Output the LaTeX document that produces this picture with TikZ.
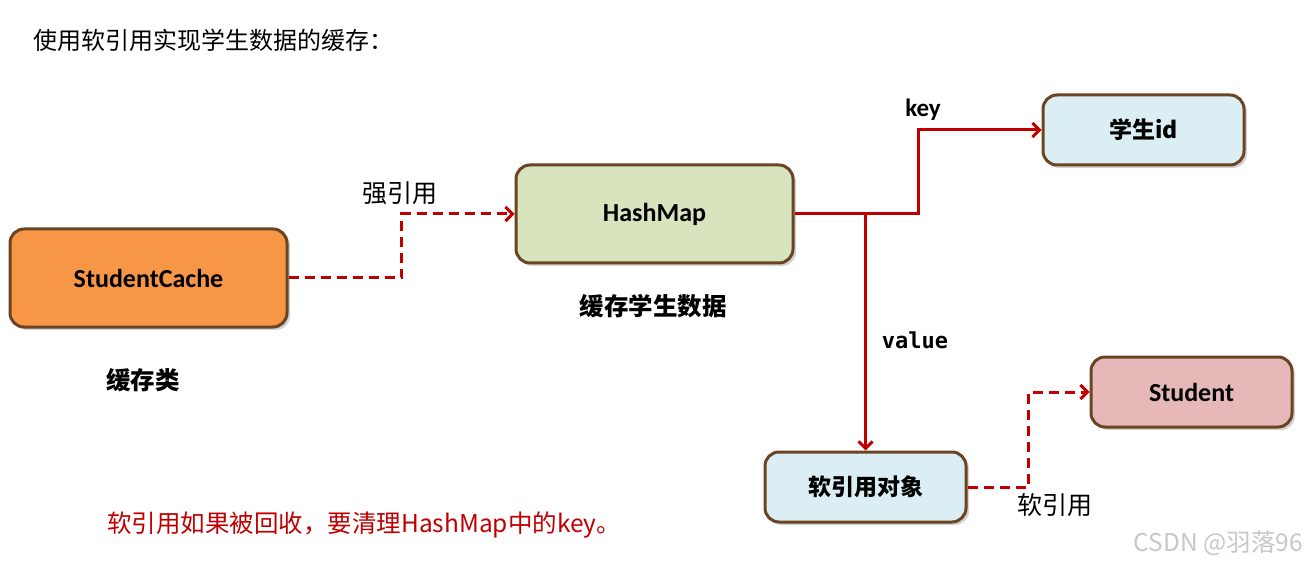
\documentclass[tikz,border=0pt]{standalone}
\usepackage{fontspec}
\setmainfont{Carlito}
\setmonofont{DejaVu Sans Mono}
\newfontfamily\cjk{Noto Sans CJK SC}
\usetikzlibrary{arrows.meta,shadows,calc}
\definecolor{boxborder}{HTML}{6B4423}
\definecolor{arrowred}{HTML}{C00000}
\definecolor{orangefill}{HTML}{F79646}
\definecolor{greenfill}{HTML}{D7E4BD}
\definecolor{bluefill}{HTML}{DAEEF3}
\definecolor{pinkfill}{HTML}{E6B9B8}
\tikzset{
  box/.style={draw=boxborder, line width=3pt, rounded corners=14pt, inner sep=0pt,
    drop shadow={shadow xshift=3pt, shadow yshift=-3pt, opacity=0.35, fill=gray},
    font=\fontsize{26}{30}\selectfont\bfseries},
  bigbox/.style={box, minimum width=277pt, minimum height=98pt},
  smallbox/.style={box, minimum width=201pt, minimum height=70pt},
  cjkbox/.style={font=\cjk\fontsize{23}{28}\selectfont\bfseries},
  link/.style={draw=arrowred, line width=3pt, -{Straight Barb[length=7pt,width=14pt,line width=3pt]}},
  dlink/.style={link, dash pattern=on 10pt off 6pt},
  lbl/.style={inner sep=0pt, font=\cjk\fontsize{25}{30}\selectfont},
  blbl/.style={inner sep=0pt, font=\cjk\fontsize{24.5}{30}\selectfont\bfseries},
}
\begin{document}
\begin{tikzpicture}[x=1pt,y=-1pt]
\useasboundingbox (0,0) rectangle (1307,564);
\node[lbl, anchor=west, font=\cjk\fontsize{24}{28}\selectfont] (title) at (33,40) {使用软引用实现学生数据的缓存：};

\node[bigbox, fill=orangefill] (sc) at (148.5,278) {StudentCache};
\node[bigbox, fill=greenfill] (hm) at (654.5,214) {HashMap};
\node[smallbox, fill=bluefill, cjkbox] (id) at (1143.5,130) {学生id};
\node[smallbox, fill=pinkfill] (st) at (1191.5,392) {Student};
\node[smallbox, fill=bluefill, cjkbox] (vo) at (865.5,487) {软引用对象};

\draw[dlink] (sc.east) -| ($(sc.east)!0.5!(hm.west)$) |- (hm.west);
\draw[link] (hm.east) -| ($(hm.east)!0.5!(id.west)$) |- (id.west);
\coordinate (br) at (vo.north |- hm.east);
\draw[link] (br) -- (vo.north);
\draw[dlink] (vo.east) -| ($(vo.east)!0.5!(st.west)$) |- (st.west);

\node[lbl] (l1) at (400,193) {强引用};
\node[inner sep=0pt, font=\fontsize{25}{30}\selectfont\bfseries] (l2) at (923,110) {key};
\node[inner sep=0pt, font=\ttfamily\fontsize{22}{26}\selectfont\bfseries] (l3) at (915,340) {value};
\node[lbl] (l4) at (1055,505) {软引用};
\node[blbl] (l5) at (653,306) {缓存学生数据};
\node[blbl] (l6) at (143,380) {缓存类};
\node[lbl, anchor=west, text=arrowred, font=\cjk\fontsize{24.5}{28}\selectfont] (note) at (107,525) {软引用如果被回收，要清理HashMap中的key。};
\node[lbl, anchor=east, text=black!22, font=\cjk\fontsize{24.5}{28}\selectfont] (wm) at (1303,543) {CSDN @羽落96};
\end{tikzpicture}
\end{document}
